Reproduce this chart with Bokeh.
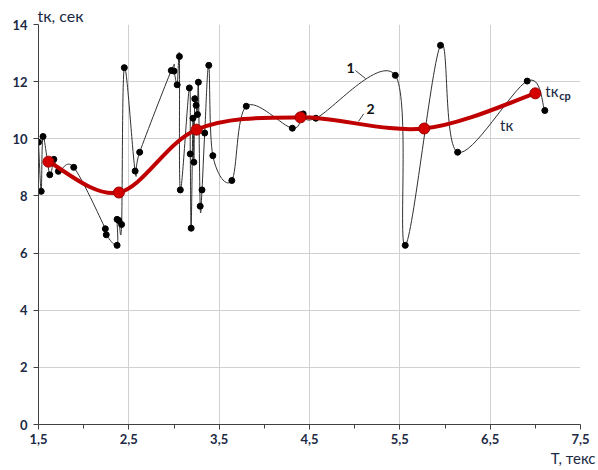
from bokeh.plotting import figure
from bokeh.models import Range1d, FixedTicker, Label, ColumnDataSource, Title
from bokeh.embed import file_html
from bokeh.resources import INLINE

# ---- data ----
t_x = [1.50, 1.53, 1.55, 1.625, 1.67, 1.72, 1.89, 2.24, 2.25, 2.37, 2.37, 2.39, 2.42,
       2.45, 2.57, 2.62, 2.97, 3.00, 3.035, 3.06, 3.07, 3.17, 3.18, 3.19, 3.21, 3.22,
       3.23, 3.245, 3.26, 3.27, 3.29, 3.31, 3.34, 3.385, 3.43, 3.64, 3.80, 4.31, 4.43,
       4.57, 5.45, 5.56, 5.95, 6.14, 6.91, 7.105]
t_y = [9.88, 8.16, 10.08, 8.74, 9.28, 8.86, 9.00, 6.85, 6.64, 6.27, 7.18, 7.14, 7.00,
       12.49, 8.87, 9.53, 12.39, 12.37, 11.89, 12.88, 8.21, 11.78, 9.47, 6.87, 10.72, 9.18,
       11.40, 11.17, 10.85, 11.98, 7.64, 8.21, 10.20, 12.57, 9.41, 8.54, 11.14, 10.37, 10.87,
       10.72, 12.22, 6.27, 13.27, 9.53, 12.02, 10.99]
avg_x = [1.61, 2.39, 3.25, 4.40, 5.77, 7.00]
avg_y = [9.20, 8.12, 10.32, 10.75, 10.36, 11.59]

x_ticks = [1.5, 2.5, 3.5, 4.5, 5.5, 6.5, 7.5]
x_tick_labels = ["1,5", "2,5", "3,5", "4,5", "5,5", "6,5", "7,5"]
x_minor = [2.0, 3.0, 4.0, 5.0, 6.0, 7.0]
y_ticks = [0, 2, 4, 6, 8, 10, 12, 14]


def smooth(xs, ys):
    n = len(xs)
    d = dict(x0=[], y0=[], x1=[], y1=[], cx0=[], cy0=[], cx1=[], cy1=[])
    for i in range(n - 1):
        a = i - 1 if i > 0 else i
        b = i + 2 if i + 2 < n else i + 1
        d["x0"].append(xs[i]); d["y0"].append(ys[i])
        d["x1"].append(xs[i + 1]); d["y1"].append(ys[i + 1])
        d["cx0"].append(xs[i] + (xs[i + 1] - xs[a]) / 6)
        d["cy0"].append(ys[i] + (ys[i + 1] - ys[a]) / 6)
        d["cx1"].append(xs[i + 1] - (xs[b] - xs[i]) / 6)
        d["cy1"].append(ys[i + 1] - (ys[b] - ys[i]) / 6)
    return ColumnDataSource(d)


FONT = "Lato"
TXT = "#1c2a44"

p = figure(width=598, height=470, output_backend="svg", toolbar_location=None,
           x_range=Range1d(1.5, 7.5), y_range=Range1d(0, 14),
           min_border_left=38, min_border_right=18, min_border_top=24, min_border_bottom=46)
p.outline_line_color = None
p.background_fill_color = "white"

p.xaxis.ticker = FixedTicker(ticks=x_ticks, minor_ticks=x_minor)
p.xaxis.major_label_overrides = {t: l for t, l in zip(x_ticks, x_tick_labels)}
p.yaxis.ticker = FixedTicker(ticks=y_ticks)
for ax in (p.xaxis, p.yaxis):
    ax.axis_line_color = "#404040"
    ax.major_tick_line_color = "#404040"
    ax.minor_tick_line_color = "#404040"
    ax.major_tick_in = 0
    ax.major_tick_out = 5
    ax.minor_tick_in = 0
    ax.minor_tick_out = 4
    ax.major_label_text_font = FONT
    ax.major_label_text_font_style = "bold"
    ax.major_label_text_font_size = "13px"
    ax.major_label_text_color = TXT
p.yaxis.minor_tick_line_color = None
p.xaxis.major_label_standoff = 4
p.yaxis.major_label_standoff = 6
p.xgrid.grid_line_color = "#d0d0d0"
p.ygrid.grid_line_color = "#d0d0d0"
p.xgrid.ticker = FixedTicker(ticks=x_ticks)
p.ygrid.ticker = FixedTicker(ticks=y_ticks)

# axis titles
p.title.text = "tк, сек"
p.title.align = "left"
p.title.text_font = FONT
p.title.text_font_size = "16px"
p.title.text_font_style = "normal"
p.title.text_color = TXT
p.title.offset = -1
p.title.standoff = 0
p.add_layout(Title(text="T, текс", align="right", text_font=FONT, text_font_size="15px",
                   text_font_style="normal", text_color=TXT, offset=-15, standoff=0), "below")

# series 1 (black, smoothed)
p.bezier(x0="x0", y0="y0", x1="x1", y1="y1", cx0="cx0", cy0="cy0", cx1="cx1", cy1="cy1",
         source=smooth(t_x, t_y), line_color="#303030", line_width=1)
p.scatter(t_x, t_y, size=6, fill_color="black", line_color="black")

# series 2 (red, smoothed)
p.bezier(x0="x0", y0="y0", x1="x1", y1="y1", cx0="cx0", cy0="cy0", cx1="cx1", cy1="cy1",
         source=smooth(avg_x, avg_y), line_color="#c00000", line_width=4)
p.scatter(avg_x, avg_y, size=11, fill_color="#d40000", line_color="#990000", line_width=1)

# annotations
p.segment(x0=[5.009, 5.10], y0=[12.39, 10.875], x1=[5.12, 5.043], y1=[12.11, 10.61],
          line_color="#404040", line_width=1)

def lab(x, y, t, size="14px", style="normal", align="left", base="middle", color=TXT):
    p.add_layout(Label(x=x, y=y, text=t, text_font=FONT, text_font_size=size,
                       text_font_style=style, text_align=align, text_baseline=base,
                       text_color=color))

lab(4.954, 12.47, "1", size="14px", style="bold", align="center", color="#111111")
lab(5.175, 11.06, "2", size="14px", style="bold", align="center", color="#111111")
lab(6.61, 10.47, "tк", size="15px")
lab(7.11, 11.66, "tк", size="15px")
lab(7.265, 11.50, "ср", size="11px", style="bold")

open("out.html", "w").write(file_html(p, INLINE))
